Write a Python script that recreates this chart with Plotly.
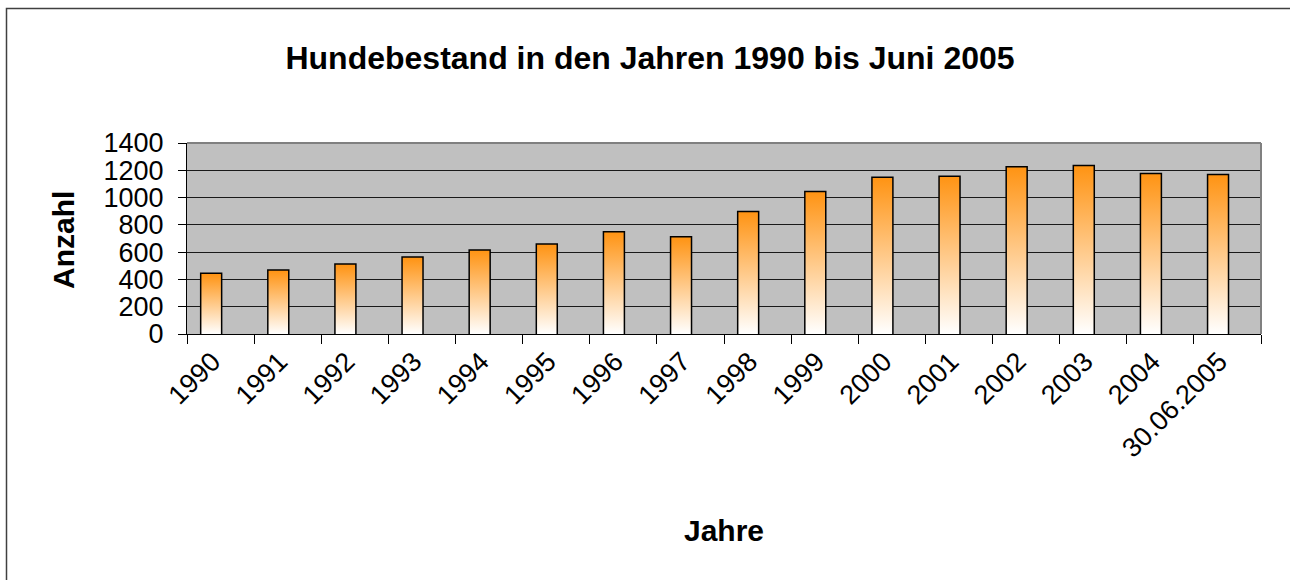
import plotly.graph_objects as go

# ---- data ----
categories = ["1990", "1991", "1992", "1993", "1994", "1995", "1996", "1997",
              "1998", "1999", "2000", "2001", "2002", "2003", "2004", "30.06.2005"]
values = [439, 463, 507, 558, 610, 654, 744, 707,
          893, 1039, 1144, 1151, 1220, 1229, 1171, 1163]
y_ticks = [0, 200, 400, 600, 800, 1000, 1200, 1400]

title_text = "Hundebestand in den Jahren 1990 bis Juni 2005"
x_title = "Jahre"
y_title = "Anzahl"

FONT = "Liberation Sans, Arial, sans-serif"
ORANGE = "#FF9414"
BAR_OFFSET = -0.285
BAR_WIDTH = 0.29
LABEL_SHIFT = -0.12

W, H = 1290, 580
L, R, T, B = 187, 29, 143, 246
PW, PH = W - L - R, H - T - B


def px_x(sx):
    return (sx - L) / PW


def px_y(sy):
    return (H - B - sy) / PH


idx = list(range(len(categories)))
fig = go.Figure()

# gradient fills (one per bar, built from the data values)
for i, v in zip(idx, values):
    x0 = i + BAR_OFFSET
    x1 = x0 + BAR_WIDTH
    fig.add_trace(go.Scatter(
        x=[x0, x1, x1, x0, x0], y=[0, 0, v, v, 0],
        mode="lines", line=dict(width=0, color="rgba(0,0,0,0)"),
        fill="toself",
        fillgradient=dict(type="vertical",
                          colorscale=[[0, "#FFFFFF"], [1, ORANGE]],
                          start=0, stop=v),
        hoverinfo="skip", showlegend=False))

# outlines
fig.add_trace(go.Bar(
    x=idx, y=values, width=BAR_WIDTH, offset=BAR_OFFSET,
    marker=dict(color="rgba(0,0,0,0)", line=dict(color="black", width=3)),
    showlegend=False))

fig.update_layout(
    width=W, height=H,
    margin=dict(l=L, r=R, t=T, b=B),
    paper_bgcolor="white",
    plot_bgcolor="#C0C0C0",
    font=dict(family=FONT, color="black"),
    showlegend=False,
    title=dict(text="<b>" + title_text + "</b>", x=650 / W, xref="container",
               xanchor="center", y=1 - 58 / H, yref="container", yanchor="middle",
               font=dict(size=32, family=FONT, color="black")),
    xaxis=dict(
        range=[-0.5, len(categories) - 0.5],
        tickmode="array", tickvals=[i + LABEL_SHIFT for i in idx], ticktext=categories,
        ticks="", tickangle=-45, tickfont=dict(size=27, family=FONT),
        showgrid=False, zeroline=False,
        showline=True, linecolor="black", linewidth=1,
        minor=dict(tickmode="array", tickvals=[i - 0.5 for i in range(len(categories) + 1)],
                   ticks="outside", ticklen=9, tickwidth=1, tickcolor="black", showgrid=False),
    ),
    yaxis=dict(
        range=[0, 1400], tickmode="array", tickvals=y_ticks,
        ticks="outside", ticklen=8, tickwidth=1, tickcolor="black",
        tickfont=dict(size=27, family=FONT), ticklabelstandoff=9,
        showgrid=True, gridcolor="#1a1a1a", gridwidth=1,
        zeroline=False, showline=True, linecolor="black", linewidth=1,
    ),
    annotations=[
        dict(text="<b>" + x_title + "</b>", xref="paper", yref="paper",
             x=px_x(724), y=px_y(530), xanchor="center", yanchor="middle",
             showarrow=False, font=dict(size=30, family=FONT)),
        dict(text="<b>" + y_title + "</b>", xref="paper", yref="paper",
             x=px_x(63), y=px_y(240), xanchor="center", yanchor="middle",
             textangle=-90, showarrow=False, font=dict(size=30, family=FONT)),
    ],
    shapes=[
        # outer chart border (top and left visible)
        dict(type="rect", xref="paper", yref="paper",
             x0=px_x(6.5), x1=px_x(W + 20), y0=px_y(H + 20), y1=px_y(8.5),
             line=dict(color="#404040", width=1.5), layer="below"),
        # plot area border top & right in gray
        dict(type="line", xref="paper", yref="paper", x0=0, x1=1, y0=1, y1=1,
             line=dict(color="#808080", width=2)),
        dict(type="line", xref="paper", yref="paper", x0=1, x1=1, y0=0, y1=1,
             line=dict(color="#808080", width=2)),
    ],
)

fig.write_html("out.html", config={"displayModeBar": False},
               post_script="document.body.style.margin='0';document.body.style.overflow='hidden';")
